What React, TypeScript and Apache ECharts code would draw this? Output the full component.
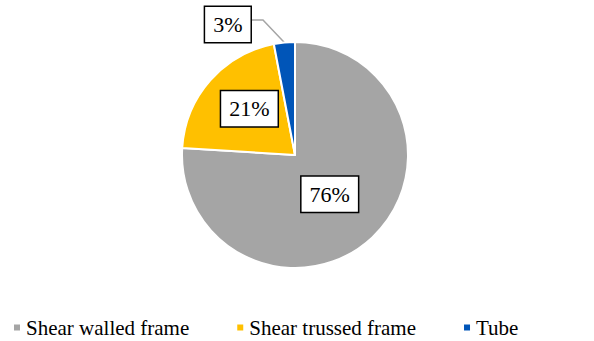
import React, { useEffect, useRef } from "react";
import * as echarts from "echarts";

const categories = ["Shear walled frame", "Shear trussed frame", "Tube"];
const shares = [76, 21, 3];
const colors = ["#A5A5A5", "#FFC000", "#0055B8"];

const SERIF = "Liberation Serif";

// nudges for each slice label, in pixels
const labelShift = [
  [-6, -4],
  [-1, -7],
  [-17, 2],
];

export default function App() {
  const ref = useRef<HTMLDivElement>(null);

  useEffect(() => {
    if (!ref.current) return;
    const chart = echarts.init(ref.current, undefined, { renderer: "svg" });

    const labelBox = {
      color: "#000",
      fontFamily: SERIF,
      fontSize: 22,
      backgroundColor: "#fff",
      borderColor: "#000",
      borderWidth: 1.5,
      padding: [7, 8, 6, 8],
      formatter: "{c}%",
    };

    chart.setOption({
      animation: false,
      color: colors,
      legend: {
        left: 12,
        bottom: 3,
        padding: 0,
        width: 800,
        itemWidth: 8,
        itemHeight: 8,
        itemGap: 46,
        icon: "rect",
        textStyle: { fontFamily: SERIF, fontSize: 21, color: "#000" },
        data: categories,
      },
      series: [
        {
          type: "pie",
          center: [295, 155],
          radius: 113,
          startAngle: 90,
          clockwise: true,
          itemStyle: { borderColor: "#fff", borderWidth: 2 },
          label: { ...labelBox, position: "inside" },
          labelLine: { show: false },
          labelLayout: (p: any) => {
            const [dx, dy] = labelShift[p.dataIndex];
            if (p.dataIndex !== 2 || !p.labelLinePoints) return { dx, dy };
            // re-route the leader: slice edge -> elbow -> right side of the moved box
            const r = p.labelRect;
            const endX = r.x + r.width + dx;
            const endY = r.y + dy + r.height * 0.38;
            const start = p.labelLinePoints[0];
            return { dx, dy, labelLinePoints: [start, [endX + 11, endY], [endX, endY]] };
          },
          data: categories.map((name, i) => {
            const item: any = { name, value: shares[i] };
            if (i === 2) {
              item.label = { ...labelBox, position: "outside" };
              item.labelLine = {
                show: true,
                length: 20,
                length2: 10,
                lineStyle: { color: "#A5A5A5", width: 1.5 },
              };
            }
            return item;
          }),
        },
      ],
    });

    return () => chart.dispose();
  }, []);

  return <div ref={ref} style={{ width: 594, height: 341, position: "absolute", left: 0, top: 0 }} />;
}
